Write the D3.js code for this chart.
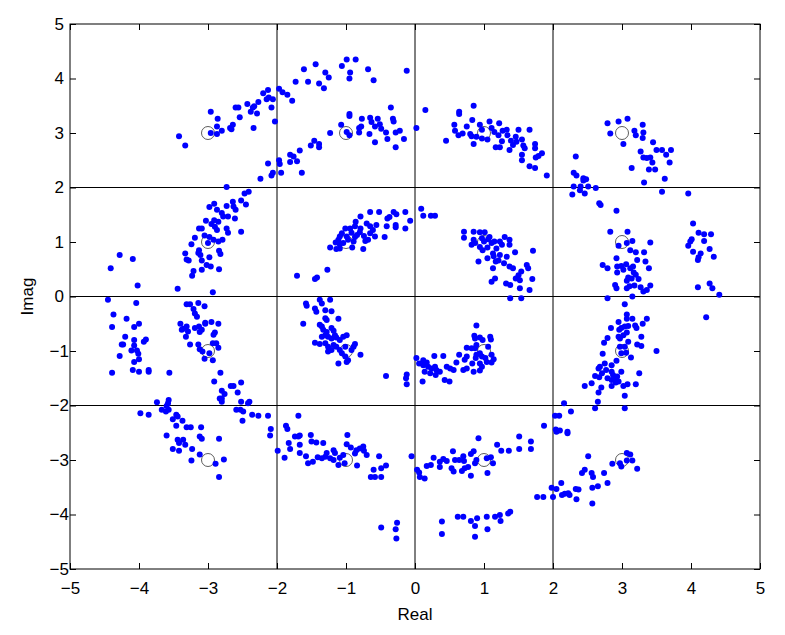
<!DOCTYPE html>
<html lang="en">
  <head>
    <meta charset="utf-8">
    <title>16-QAM constellation with phase noise</title>
    <script type="text/javascript" src="https://cdn.jsdelivr.net/npm/d3@7"></script>
    <style type="text/css">
      body { margin: 0; background: #fff; }
      text { font-family: "Liberation Sans", Arial, sans-serif; }
    </style>
  </head>
  <body>
    <script type="text/javascript">

      //Width and height
      var w = 785;
      var h = 635;
      var margin = { top: 24, right: 25, bottom: 66, left: 70 };

      //Ideal 16-QAM symbol levels (open circles)
      var levels = [-3, -1, 1, 3];

      //Axis ticks and grid
      var ticks = [-5, -4, -3, -2, -1, 0, 1, 2, 3, 4, 5];
      var gridLines = [-2, 0, 2];

      //Received symbols
      var ptsNW = [
        [-3.42,2.94],[-3.33,2.77],[-2.96,3.39],[-2.86,3.26],[-2.87,3.12],[-2.96,3.0],[-2.87,2.98],[-2.80,3.04],
        [-2.68,3.09],[-2.64,3.15],[-2.66,3.07],[-2.54,3.29],[-2.60,3.47],[-2.56,3.47],[-2.43,3.53],[-2.34,3.09],
        [-2.38,3.39],[-2.35,3.47],[-2.33,3.49],[-2.29,3.36],[-2.27,3.57],[-2.20,3.73],[-2.13,3.79],[-2.15,3.62],
        [-2.12,3.65],[-2.06,3.62],[-2.08,3.47],[-2.03,3.21],[-1.97,3.81],[-1.92,3.75],[-1.85,3.70],[-1.78,3.59],
        [-1.73,3.94],[-1.61,4.17],
        [-1.67,2.68],[-1.81,2.60],[-1.76,2.57],[-1.71,2.48],[-1.81,2.47],[-1.64,2.27],[-1.97,2.50],[-1.96,2.43],
        [-2.13,2.44],[-1.94,2.27],[-2.06,2.27],[-2.08,2.22],[-2.24,2.16],[-2.73,2.01],[-2.47,1.89],[-2.41,1.92]
      ];
      var ptsN = [
        [-1.44,4.26],[-1.55,3.94],[-1.39,3.91],[-1.32,3.82],[-1.30,4.11],[-1.25,4.02],[-1.06,4.23],[-0.99,4.35],
        [-0.86,4.35],[-0.94,4.11],[-0.95,4.0],[-0.68,4.17],[-0.60,3.97],[-0.12,4.14],
        [-1.51,2.77],[-1.46,2.86],[-1.39,2.80],[-1.39,2.74],[-1.23,3.0],[-1.07,3.15],[-0.99,3.02],[-0.95,2.96],
        [-0.95,3.35],[-0.95,3.31],[-0.81,3.09],[-0.78,3.12],[-0.77,3.26],[-0.81,3.01],[-0.65,3.28],[-0.66,2.98],
        [-0.63,3.20],[-0.58,3.12],[-0.54,3.26],[-0.51,3.16],[-0.49,3.08],[-0.58,2.83],[-0.42,3.01],[-0.40,2.89],
        [-0.35,3.47],[-0.32,3.26],[-0.31,3.21],[-0.28,3.01],[-0.22,3.04],[-0.28,2.74],[-0.16,2.89],[0.02,3.09],
        [0.15,3.42],
        [0.45,2.86],[0.57,3.15],[0.58,3.04],[0.64,3.39],[0.64,3.35],[0.63,2.96],[0.69,2.99],[0.75,3.12],
        [0.83,3.24],[0.85,3.50],[0.80,2.98],[0.82,2.94],[0.85,2.80],[0.89,2.93],[0.94,3.15],[0.97,3.06],
        [0.97,2.90],[1.05,2.88],[1.08,3.21],[1.11,3.09],[1.15,3.02],[1.22,3.18],[1.21,2.96],[1.26,2.85],
        [1.17,2.74],[1.23,2.74],[1.27,3.04],[1.33,3.06],[1.34,2.96],[1.39,2.86],[1.37,2.69],[1.42,2.78],
        [1.46,2.93],[1.50,3.06],[1.47,2.84],[1.55,2.88],[1.57,2.77],[1.59,2.72],[1.55,2.60],[1.55,2.50],
        [1.66,3.06],[1.66,2.39]
      ];
      var ptsNE = [
        [1.74,2.80],[1.74,2.72],[1.75,2.55],[1.79,2.58],[1.84,2.63],[1.74,2.36],[1.91,2.22],[2.33,2.57],
        [2.30,2.27],[2.34,2.22],[2.44,2.17],[2.48,2.15],[2.44,2.13],[2.30,2.02],[2.40,2.02],[2.51,2.02],
        [2.62,1.99],[2.39,1.95],[2.46,1.89],[2.28,1.87],
        [2.79,3.18],[2.95,3.21],[3.08,3.26],[2.83,2.99],[3.02,2.80],[3.18,3.04],[3.20,2.96],[3.30,3.15],
        [3.31,3.01],[3.30,2.91],[3.45,2.83],[3.27,2.66],[3.50,2.69],[3.58,2.69],[3.71,2.69],[3.64,2.60],
        [3.31,2.55],[3.36,2.54],[3.41,2.55],[3.44,2.46],[3.39,2.33],[3.48,2.33],[3.69,2.46],[3.14,2.36],
        [3.32,2.09],[3.62,2.16],[3.58,1.92],[3.96,1.89]
      ];
      var ptsW = [
        [-2.98,1.64],[-2.91,1.70],[-2.87,1.59],[-2.80,1.53],[-2.73,1.66],[-2.64,1.74],[-2.63,1.65],[-2.60,1.59],
        [-2.52,1.76],[-2.45,1.69],[-2.78,1.47],[-2.71,1.47],[-2.61,1.43],[-3.03,1.39],[-2.91,1.40],[-2.85,1.37],
        [-2.90,1.28],[-2.87,1.22],[-2.73,1.25],[-2.71,1.17],[-3.13,1.25],[-3.09,1.25],[-2.95,1.33],[-2.52,1.19],
        [-3.19,1.08],[-3.05,1.12],[-2.98,1.09],[-2.92,1.04],[-2.85,1.01],[-2.79,1.04],[-3.0,0.98],[-3.24,0.96],
        [-3.13,0.85],[-3.14,0.80],[-3.33,0.79],[-3.31,0.68],[-3.28,0.66],[-3.11,0.76],[-3.09,0.66],[-2.98,0.72],
        [-2.84,0.84],[-2.82,0.78],[-3.02,0.58],[-2.96,0.55],[-2.84,0.50],[-3.09,0.49],[-3.21,0.47],[-3.23,0.38],
        [-3.44,0.14],[-2.93,0.08],[-4.28,0.76],[-4.09,0.69],[-4.41,0.52],[-4.02,0.20],[-1.71,0.38],
        [-4.45,-0.06],[-4.04,-0.12],[-4.37,-0.33],[-4.18,-0.41],[-4.39,-0.56],[-4.07,-0.56],[-4.0,-0.50],[-4.20,-0.74],
        [-4.25,-0.88],[-4.23,-0.88],[-4.07,-0.80],[-3.93,-0.83],[-3.90,-0.79],[-4.07,-0.90],[-4.11,-0.99],[-4.03,-0.99],
        [-4.01,-1.05],[-4.28,-1.09],[-4.0,-1.15],[-4.07,-1.20],[-4.39,-1.40],[-4.09,-1.35],[-4.0,-1.38],[-3.86,-1.35],
        [-3.86,-1.38],[-3.56,-1.40],
        [-3.31,-0.14],[-3.26,-0.14],[-3.14,-0.12],[-3.21,-0.23],[-3.05,-0.18],[-3.19,-0.31],[-3.16,-0.37],[-3.40,-0.50],
        [-3.36,-0.59],[-3.31,-0.55],[-3.38,-0.61],[-3.29,-0.64],[-3.32,-0.74],[-3.19,-0.58],[-3.13,-0.55],[-3.04,-0.50],
        [-3.04,-0.48],[-3.09,-0.61],[-3.12,-0.65],[-2.95,-0.47],[-2.85,-0.50],[-2.90,-0.66],[-2.92,-0.70],[-3.26,-0.88],
        [-3.14,-0.88],[-3.12,-0.97],[-3.08,-1.01],[-2.98,-1.04],[-2.93,-0.86],[-2.88,-0.86],[-2.85,-0.94],[-3.05,-1.14],
        [-2.93,-1.17],[-2.82,-1.40]
      ];
      var ptsC = [
        [-0.65,1.55],[-0.52,1.55],[-0.79,1.47],[-0.86,1.37],[-0.40,1.43],[-0.37,1.46],[-0.31,1.55],[-0.27,1.51],
        [-0.14,1.55],[-0.07,1.39],[-0.28,1.31],[-0.28,1.27],[-0.41,1.29],[-0.14,1.25],[-0.56,1.31],[-0.61,1.22],
        [-0.70,1.34],[-0.65,1.29],[-0.79,1.25],[-0.87,1.29],[-1.01,1.25],[-0.94,1.25],[-0.92,1.17],[-0.80,1.18],
        [-1.06,1.16],[-1.09,1.10],[-1.11,1.04],[-0.99,1.10],[-0.97,1.04],[-0.87,1.09],[-0.84,1.13],[-0.74,1.11],
        [-0.65,1.16],[-0.58,1.10],[-0.44,1.09],[-0.68,1.04],[-0.72,1.02],[-0.89,1.01],[-1.09,0.96],[-1.04,0.98],
        [-1.15,0.99],[-1.23,0.90],[-1.14,0.87],[-1.09,0.88],[-0.91,0.90],[-0.75,0.87],[-1.27,0.49],[-1.45,0.32],
        [-1.42,0.35],
        [0.09,1.61],[0.12,1.48],[0.23,1.48],[0.29,1.48],
        [0.71,1.19],[0.71,1.08],[0.85,1.19],[0.94,1.18],[1.01,1.18],[0.85,1.04],[0.87,0.98],[0.82,0.95],
        [0.97,1.07],[1.0,1.01],[1.06,1.05],[1.08,1.09],[0.94,0.91],[0.98,0.85],[1.05,0.90],[1.11,0.98],
        [1.15,1.01],[1.23,1.01],[1.18,0.88],[1.26,0.95],[1.30,1.09],[1.37,1.04],[1.37,0.95],[1.13,0.79],
        [1.14,0.74],[1.23,0.76],[1.05,0.70],[1.45,0.81],[0.92,0.64],[1.17,0.64],[1.21,0.66],[1.29,0.61],
        [1.33,0.73],[1.37,0.55],[1.42,0.52],[1.13,0.52],[1.54,0.46],[1.50,0.39],[1.52,0.30],[1.46,0.33],
        [1.62,0.58],[1.64,0.52],[1.71,0.84],[1.70,0.32],[1.16,0.33],[1.11,0.27],[1.32,0.24],[1.38,0.21],
        [1.52,0.15],[1.66,0.12],[1.38,-0.03],[1.54,-0.03],
        [-1.58,-0.13],[-1.57,-0.17],[-1.38,-0.06],[-1.35,-0.13],[-1.23,-0.06],[-1.45,-0.22],[-1.43,-0.28],[-1.30,-0.25],
        [-1.21,-0.27],[-1.30,-0.40],[-1.28,-0.43],[-1.11,-0.41],[-1.62,-0.50],[-1.38,-0.52],[-1.35,-0.55],[-1.33,-0.61],
        [-1.28,-0.65],[-1.21,-0.58],[-1.18,-0.63],[-1.35,-0.74],[-1.30,-0.71],[-1.26,-0.74],[-1.21,-0.77],[-1.16,-0.71],
        [-1.14,-0.75],[-1.09,-0.80],[-1.04,-0.74],[-0.99,-0.71],[-1.45,-0.85],[-1.38,-0.87],[-1.30,-0.86],[-1.26,-0.92],
        [-1.18,-0.89],[-1.14,-0.92],[-1.21,-0.98],[-1.26,-1.01],[-1.09,-0.98],[-1.01,-0.92],[-0.87,-0.87],[-0.92,-0.98],
        [-0.89,-0.92],[-1.06,-1.04],[-1.01,-1.10],[-0.97,-1.17],[-0.99,-1.20],[-1.11,-1.23],[-0.79,-1.07],[-0.42,-1.46],
        [-0.12,-1.43],[-0.13,-1.50],
        [0.02,-1.13],[0.06,-1.23],[0.12,-1.17],[0.12,-1.26],[0.17,-1.21],[0.19,-1.29],[0.28,-1.09],[0.41,-1.09],
        [0.24,-1.32],[0.29,-1.29],[0.14,-1.38],[0.22,-1.41],[0.30,-1.44],[0.36,-1.38],[0.31,-1.35],[0.46,-1.29],
        [0.51,-1.32],[0.56,-1.35],[0.60,-1.21],[0.64,-1.07],[0.72,-1.16],[0.75,-1.10],[0.75,-0.94],[0.82,-0.95],
        [0.70,-1.35],[0.75,-1.32],[0.83,-1.23],[0.88,-1.13],[0.89,-1.07],[0.94,-1.04],[0.97,-1.10],[0.87,-0.95],
        [0.89,-0.89],[0.86,-0.72],[0.87,-0.77],[0.94,-0.75],[0.98,-0.80],[0.89,-0.53],[0.94,-1.23],[0.97,-1.29],
        [1.02,-1.13],[1.04,-1.20],[1.06,-0.92],[1.09,-0.74],[1.10,-0.79],[1.11,-1.07],[1.14,-1.15],[1.11,-1.21],
        [0.85,-1.38],[0.94,-1.36]
      ];
      var ptsE = [
        [2.67,1.71],[2.69,1.68],[2.92,1.575],[2.83,1.19],[3.08,1.19],[3.07,0.98],[2.95,0.93],[3.15,1.02],
        [3.12,0.85],[3.20,0.81],[3.32,0.81],[3.41,0.99],[2.72,0.58],[2.79,0.52],[2.92,0.70],[3.22,0.67],
        [3.34,0.64],[3.39,0.52],[2.93,0.55],[2.99,0.56],[3.06,0.59],[3.12,0.52],[3.16,0.55],[2.93,0.44],
        [3.02,0.49],[3.17,0.44],[3.20,0.40],[3.09,0.35],[3.07,0.29],[3.24,0.32],[3.14,0.33],[2.90,0.21],
        [2.92,0.15],[3.07,0.15],[3.11,0.19],[3.18,0.20],[3.27,0.17],[3.31,0.09],[3.36,0.12],[3.41,0.20],
        [2.79,-0.03],[3.15,0.0],
        [4.03,1.34],[4.11,1.17],[4.19,1.14],[4.29,1.14],[4.01,1.05],[3.99,1.01],[3.96,0.93],[4.19,1.02],
        [4.03,0.82],[4.14,0.79],[4.11,0.72],[4.10,0.67],[4.27,0.87],[4.33,0.73],[4.10,0.17],[4.27,0.24],
        [4.31,0.15],[4.41,0.03],[4.22,-0.38],
        [3.04,-0.14],[3.07,-0.33],[3.07,-0.41],[3.15,-0.41],[3.36,-0.41],[2.95,-0.47],[3.30,-0.50],[2.84,-0.58],
        [2.96,-0.61],[2.99,-0.58],[3.04,-0.55],[3.09,-0.54],[3.19,-0.53],[3.21,-0.58],[3.07,-0.66],[3.02,-0.71],
        [2.95,-0.74],[2.97,-0.77],[2.79,-0.76],[3.28,-0.74],[2.74,-0.85],[2.97,-0.92],[3.04,-0.92],[3.09,-0.83],
        [3.22,-0.88],[3.28,-0.91],[3.50,-1.0],[2.99,-1.04],[3.13,-1.12],[3.06,-1.03],[2.72,-1.05],[2.92,-1.18],
        [2.75,-1.23],[2.85,-1.26],[2.68,-1.29],[2.66,-1.32],[2.71,-1.41],[2.77,-1.35],[2.85,-1.38],[2.87,-1.44],
        [2.61,-1.46],[2.67,-1.48],[2.93,-1.47],[2.99,-1.38],[2.79,-1.50],[2.85,-1.53],[2.91,-1.50],[3.25,-1.41]
      ];
      var ptsSW = [
        [-2.91,-1.56],[-2.67,-1.64],[-2.63,-1.64],[-2.52,-1.58],[-2.80,-1.73],[-2.76,-1.79],[-2.80,-1.87],[-2.83,-1.87],
        [-2.80,-1.93],[-2.57,-1.76],[-2.52,-1.93],[-2.40,-1.93],[-2.42,-1.96],[-2.59,-2.08],[-2.53,-2.08],[-2.49,-2.11],
        [-2.50,-2.28],[-2.36,-2.17],[-2.27,-2.19],[-2.13,-2.19],[-2.09,-2.43],[-2.10,-2.55],
        [-3.74,-1.94],[-3.57,-1.90],[-3.58,-1.96],[-3.60,-2.01],[-3.98,-2.14],[-3.86,-2.17],[-3.67,-2.08],[-3.61,-2.11],
        [-3.57,-2.08],[-3.46,-2.17],[-3.44,-2.20],[-3.51,-2.25],[-3.46,-2.37],[-3.37,-2.28],[-3.31,-2.40],[-3.25,-2.40],
        [-3.10,-2.40],[-3.60,-2.55],[-3.44,-2.63],[-3.42,-2.69],[-3.36,-2.63],[-3.33,-2.72],[-3.12,-2.57],[-3.09,-2.61],
        [-2.84,-2.61],[-3.51,-2.80],[-3.42,-2.83],[-3.23,-2.80],[-3.12,-2.90],[-3.24,-3.01],[-2.89,-3.07],[-2.77,-2.99],
        [-2.84,-3.31],
        [-1.69,-2.19],[-1.87,-2.37],[-1.85,-2.43],[-1.83,-2.69],[-1.81,-2.80],[-1.74,-2.57],[-1.67,-2.55],[-1.69,-2.57],
        [-1.67,-2.72],[-1.67,-2.87],[-1.99,-2.83],[-1.89,-2.96]
      ];
      var ptsS = [
        [-0.12,-1.61],[0.11,-1.56],[0.43,-1.53],[0.50,-1.56],
        [-1.51,-2.54],[-1.50,-2.66],[-1.43,-2.68],[-1.33,-2.69],[-1.58,-2.93],[-1.55,-3.06],[-1.48,-3.03],[-1.41,-2.95],
        [-1.35,-2.97],[-1.30,-2.94],[-1.28,-2.87],[-1.18,-2.82],[-1.16,-2.87],[-1.23,-2.97],[-1.18,-3.0],[-1.11,-3.09],
        [-1.09,-2.96],[-1.04,-2.91],[-1.02,-3.06],[-0.98,-2.54],[-0.99,-2.71],[-0.93,-2.77],[-0.87,-2.88],[-0.85,-2.82],
        [-0.80,-2.79],[-0.75,-2.75],[-0.74,-2.83],[-0.70,-2.91],[-0.84,-3.10],[-0.52,-2.93],[-0.60,-3.18],[-0.49,-3.15],
        [-0.42,-3.10],[-0.64,-3.31],[-0.58,-3.31],[-0.49,-3.31],[-0.05,-2.93],[-0.49,-4.24],[-0.28,-4.27],[-0.26,-4.15],
        [-0.27,-4.44],
        [0.03,-3.18],[0.06,-3.23],[0.07,-3.31],[0.14,-3.34],[0.17,-3.11],[0.23,-3.09],[0.27,-2.96],[0.36,-3.13],
        [0.36,-3.03],[0.41,-2.98],[0.46,-3.02],[0.55,-2.84],[0.53,-3.15],[0.56,-3.21],[0.58,-3.0],[0.64,-3.0],
        [0.70,-2.93],[0.71,-3.02],[0.68,-3.2],[0.72,-3.15],[0.77,-3.13],[0.81,-3.29],[0.81,-2.89],[0.85,-2.84],
        [0.87,-3.06],[0.89,-3.0],[0.92,-2.60],[1.04,-2.97],[1.10,-2.95],[1.13,-3.06],[1.05,-3.24],[1.19,-2.72],
        [1.25,-2.83],[1.36,-2.83],[1.51,-2.57],[1.51,-2.80],[1.68,-2.66],[1.68,-2.80],
        [0.39,-4.13],[0.39,-4.36],[0.62,-4.04],[0.70,-4.04],[0.81,-4.12],[0.87,-4.21],[0.90,-4.07],[0.87,-4.41],
        [1.04,-4.04],[1.05,-4.27],[1.16,-4.04],[1.23,-4.01],[1.24,-4.12],[1.35,-3.98],[1.38,-3.95]
      ];
      var ptsSE = [
        [2.46,-1.64],[2.56,-1.59],[2.70,-1.67],[2.66,-1.76],[2.85,-1.64],[2.91,-1.58],[2.95,-1.56],[3.02,-1.64],
        [3.08,-1.61],[3.20,-1.61],[3.04,-1.82],[2.65,-1.93],[2.61,-2.05],[3.04,-2.05],[2.16,-1.96],[2.26,-2.11],
        [2.03,-2.19],[2.09,-2.19],[1.87,-2.37],[2.04,-2.44],[2.05,-2.48],[2.10,-2.46],[2.21,-2.48],[2.21,-2.51],
        [2.51,-2.93],[2.86,-3.07],[2.97,-3.06],[2.99,-3.12],[3.07,-2.87],[3.12,-2.90],[3.07,-3.01],[3.15,-3.01],
        [3.22,-3.16],[2.42,-3.24],[2.46,-3.18],[2.56,-3.24],[2.58,-3.31],[2.74,-3.24],[2.79,-3.42],[2.57,-3.51],
        [2.65,-3.48],[2.12,-3.42],[1.98,-3.51],[2.05,-3.53],[2.13,-3.64],[2.17,-3.62],[2.22,-3.61],[2.24,-3.64],
        [2.33,-3.53],[2.37,-3.54],[2.34,-3.72],[2.57,-3.80],[1.77,-3.68],[1.86,-3.68],[2.0,-3.68]
      ];

      var received = [].concat(ptsNW, ptsN, ptsNE, ptsW, ptsC, ptsE, ptsSW, ptsS, ptsSE);
      var ideal = d3.cross(levels, levels);

      //Scales
      var x = d3.scaleLinear().domain([-5, 5]).range([margin.left, w - margin.right]);
      var y = d3.scaleLinear().domain([-5, 5]).range([h - margin.bottom, margin.top]);

      //Create SVG element
      var svg = d3.select("body")
                  .append("svg")
                  .attr("width", w)
                  .attr("height", h);

      //Grid lines at -2, 0, 2
      svg.selectAll("line.gx")
         .data(gridLines)
         .enter()
         .append("line")
         .attr("class", "gx")
         .attr("x1", function(d) { return x(d); })
         .attr("x2", function(d) { return x(d); })
         .attr("y1", y(5))
         .attr("y2", y(-5))
         .style("stroke", "#000")
         .style("stroke-width", 1);

      svg.selectAll("line.gy")
         .data(gridLines)
         .enter()
         .append("line")
         .attr("class", "gy")
         .attr("x1", x(-5))
         .attr("x2", x(5))
         .attr("y1", function(d) { return y(d); })
         .attr("y2", function(d) { return y(d); })
         .style("stroke", "#000")
         .style("stroke-width", 1);

      //Ideal symbol positions as open circles
      svg.selectAll("circle.ideal")
         .data(ideal)
         .enter()
         .append("circle")
         .attr("class", "ideal")
         .attr("cx", function(d) { return x(d[0]); })
         .attr("cy", function(d) { return y(d[1]); })
         .attr("r", 6.5)
         .style("fill", "#fff")
         .style("stroke", "#333")
         .style("stroke-width", 0.8);

      //Received symbols
      svg.selectAll("circle.rx")
         .data(received)
         .enter()
         .append("circle")
         .attr("class", "rx")
         .attr("cx", function(d) { return x(d[0]); })
         .attr("cy", function(d) { return y(d[1]); })
         .attr("r", 3)
         .style("fill", "#0000ff");

      //Axes, ticks pointing inwards on all four sides
      var fontSize = "17px";

      var gx = svg.append("g")
                  .attr("transform", "translate(0," + y(-5) + ")")
                  .call(d3.axisBottom(x).tickValues(ticks).tickSize(-6).tickPadding(13));
      var gy = svg.append("g")
                  .attr("transform", "translate(" + x(-5) + ",0)")
                  .call(d3.axisLeft(y).tickValues(ticks).tickSize(-6).tickPadding(6));
      var gt = svg.append("g")
                  .attr("transform", "translate(0," + y(5) + ")")
                  .call(d3.axisTop(x).tickValues(ticks).tickSize(-6).tickFormat(""));
      var gr = svg.append("g")
                  .attr("transform", "translate(" + x(5) + ",0)")
                  .call(d3.axisRight(y).tickValues(ticks).tickSize(-6).tickFormat(""));

      [gx, gy, gt, gr].forEach(function(g) {
        g.select(".domain").remove();
        g.selectAll(".tick line").style("stroke", "#000");
        g.selectAll("text")
         .style("font-size", fontSize)
         .style("font-family", "'Liberation Sans', Arial, sans-serif")
         .style("fill", "#000");
      });

      //negative y labels sit a little closer to the axis
      gy.selectAll(".tick text")
        .attr("dx", function(d) { return d < 0 ? 5 : 0; });

      //Box
      svg.append("rect")
         .attr("x", x(-5))
         .attr("y", y(5))
         .attr("width", x(5) - x(-5))
         .attr("height", y(-5) - y(5))
         .style("fill", "none")
         .style("stroke", "#000")
         .style("stroke-width", 1);

      //Axis labels
      svg.append("text")
         .attr("x", x(0))
         .attr("y", 620)
         .attr("text-anchor", "middle")
         .style("font-size", fontSize)
         .text("Real");

      svg.append("text")
         .attr("transform", "translate(33," + y(0) + ") rotate(-90)")
         .attr("text-anchor", "middle")
         .style("font-size", fontSize)
         .text("Imag");

    </script>
  </body>
</html>
